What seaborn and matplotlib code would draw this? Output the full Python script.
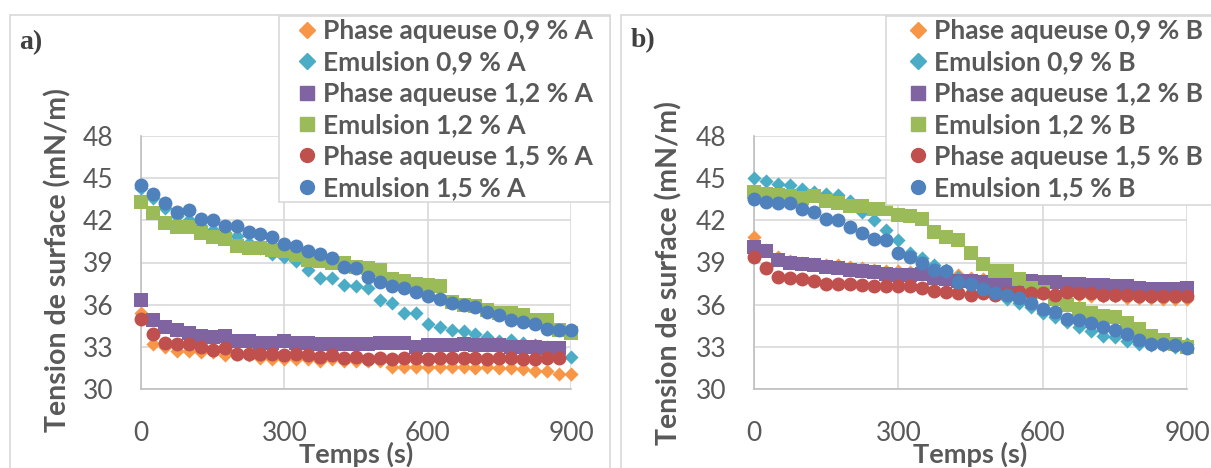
import matplotlib
matplotlib.use("Agg")
import matplotlib.pyplot as plt
import seaborn as sns
import pandas as pd
from matplotlib.patches import Rectangle
from matplotlib.lines import Line2D

sns.set_style("white")
plt.rcParams['font.family'] = ['Lato', 'DejaVu Sans']

# ---- time axis (s) ----
time = [0, 25, 50, 75, 100, 125, 150, 175, 200, 225, 250, 275, 300, 325, 350,
        375, 400, 425, 450, 475, 500, 525, 550, 575, 600, 625, 650, 675, 700,
        725, 750, 775, 800, 825, 850, 875, 900]
time_short = time[:-1]

# ---- panel a) ----
aq09_A = [35.4, 33.2, 33.0, 32.7, 32.7, 32.6, 32.6, 32.4, 32.5, 32.4, 32.2, 32.1,
          32.1, 32.1, 32.1, 32.0, 32.1, 32.0, 32.0, 32.0, 32.0, 31.6, 31.6, 31.6,
          31.6, 31.6, 31.6, 31.6, 31.5, 31.6, 31.5, 31.5, 31.4, 31.3, 31.3, 31.1, 31.1]
em09_A = [44.3, 43.6, 42.9, 42.3, 42.0, 41.6, 41.3, 41.1, 40.9, 40.4, 40.0, 39.6,
          39.4, 39.1, 38.5, 37.9, 37.9, 37.4, 37.3, 37.2, 36.3, 36.1, 35.4, 35.4,
          34.6, 34.4, 34.2, 34.1, 33.9, 33.7, 33.4, 33.5, 33.3, 33.1, 33.0, 32.9, 32.3]
aq12_A = [36.3, 34.9, 34.4, 34.2, 34.0, 33.8, 33.7, 33.8, 33.4, 33.4, 33.3, 33.3,
          33.4, 33.3, 33.3, 33.2, 33.2, 33.2, 33.2, 33.2, 33.3, 33.3, 33.3, 33.0,
          33.1, 33.1, 33.1, 33.2, 33.1, 33.1, 33.1, 33.0, 33.0, 33.0, 32.9, 32.9]
em12_A = [43.3, 42.5, 41.8, 41.5, 41.5, 41.1, 40.8, 40.7, 40.2, 40.0, 40.0, 39.9,
          39.8, 39.5, 39.2, 39.1, 39.0, 39.0, 38.7, 38.6, 38.5, 37.8, 37.7, 37.5,
          37.4, 37.3, 36.2, 36.0, 35.9, 35.6, 35.4, 35.4, 35.3, 34.9, 34.9, 34.2, 34.0]
aq15_A = [35.0, 33.9, 33.3, 33.2, 33.2, 33.0, 32.8, 32.9, 32.5, 32.5, 32.5, 32.5,
          32.4, 32.5, 32.4, 32.3, 32.4, 32.2, 32.3, 32.1, 32.2, 32.1, 32.2, 32.2,
          32.1, 32.2, 32.2, 32.2, 32.2, 32.1, 32.2, 32.2, 32.1, 32.1, 32.2, 32.2]
em15_A = [44.5, 43.9, 43.2, 42.6, 42.7, 42.1, 42.0, 41.6, 41.6, 41.2, 41.0, 40.8,
          40.3, 40.2, 39.8, 39.6, 39.3, 38.7, 38.6, 38.0, 37.6, 37.3, 37.2, 36.9,
          36.6, 36.4, 36.1, 36.0, 35.8, 35.5, 35.3, 34.9, 34.8, 34.6, 34.3, 34.2, 34.2]

# ---- panel b) ----
aq09_B = [40.8, 39.9, 39.4, 39.1, 39.0, 38.9, 38.8, 38.8, 38.7, 38.6, 38.5, 38.4,
          38.4, 38.3, 38.3, 38.2, 38.2, 38.1, 37.9, 37.8, 37.6, 37.4, 37.2, 37.0,
          36.9, 36.8, 36.7, 36.7, 36.6, 36.6, 36.6, 36.5, 36.5, 36.5, 36.4, 36.4, 36.4]
em09_B = [45.0, 44.8, 44.6, 44.5, 44.2, 44.0, 43.9, 43.8, 43.4, 42.6, 42.0, 41.3,
          40.6, 39.7, 39.3, 38.8, 38.5, 38.0, 37.6, 37.2, 36.8, 36.4, 36.1, 35.8,
          35.4, 35.1, 34.8, 34.4, 34.1, 33.8, 33.7, 33.4, 33.2, 33.1, 33.1, 33.0, 33.2]
aq12_B = [40.1, 39.8, 39.2, 39.0, 38.9, 38.8, 38.7, 38.6, 38.5, 38.4, 38.3, 38.2,
          38.1, 38.1, 38.2, 37.9, 37.8, 37.7, 37.7, 37.6, 37.5, 37.5, 37.6, 37.7,
          37.6, 37.6, 37.5, 37.5, 37.4, 37.4, 37.3, 37.3, 37.2, 37.1, 37.1, 37.1, 37.2]
em12_B = [44.0, 43.9, 43.8, 43.7, 43.6, 43.7, 43.4, 43.2, 43.0, 43.0, 42.8, 42.8,
          42.4, 42.3, 42.1, 41.2, 40.8, 40.6, 39.7, 38.9, 38.4, 38.4, 37.8, 37.2,
          36.9, 36.4, 36.0, 35.7, 35.4, 35.2, 35.1, 34.7, 34.3, 33.8, 33.5, 33.2, 33.0]
aq15_B = [39.4, 38.6, 38.0, 37.9, 37.8, 37.7, 37.5, 37.5, 37.5, 37.4, 37.3, 37.3,
          37.3, 37.3, 37.2, 37.0, 36.9, 36.8, 36.7, 36.8, 36.7, 36.8, 36.9, 36.8,
          36.8, 36.7, 36.9, 36.8, 36.8, 36.7, 36.7, 36.7, 36.6, 36.6, 36.6, 36.6, 36.6]
em15_B = [43.5, 43.3, 43.2, 43.2, 42.8, 42.6, 42.1, 42.0, 41.5, 41.1, 40.7, 40.6,
          39.7, 39.4, 39.0, 38.5, 38.4, 37.6, 37.5, 37.1, 36.8, 36.7, 36.5, 36.1,
          35.7, 35.5, 35.0, 34.9, 34.7, 34.4, 34.2, 33.9, 33.5, 33.2, 33.2, 33.1, 32.9]

names = ["Phase aqueuse 0,9 %", "Emulsion 0,9 %", "Phase aqueuse 1,2 %",
         "Emulsion 1,2 %", "Phase aqueuse 1,5 %", "Emulsion 1,5 %"]
colors = ["#F79646", "#4BACC6", "#8064A2", "#9BBB59", "#C0504D", "#4F81BD"]
markers = ["D", "D", "s", "s", "o", "o"]
sizes = [52, 52, 88, 88, 100, 100]
x_ticks = [0, 300, 600, 900]
y_ticks = [30, 33, 36, 39, 42, 45, 48]

panels = {
    "A": ([time, time, time_short, time, time_short, time],
          [aq09_A, em09_A, aq12_A, em12_A, aq15_A, em15_A]),
    "B": ([time] * 6, [aq09_B, em09_B, aq12_B, em12_B, aq15_B, em15_B]),
}

W, H = 1211, 468
fig = plt.figure(figsize=(W / 100, H / 100), dpi=100)

def fx(px):
    return px / W

def fy(py):
    return 1 - py / H

def frame(x0, y0, x1, y1, fill=False):
    fig.patches.append(Rectangle((fx(x0), fy(y1)), fx(x1) - fx(x0), fy(y0) - fy(y1),
                                 transform=fig.transFigure, fill=fill, fc="white",
                                 ec="#d9d9d9", lw=1.2, zorder=2))

# chart borders
frame(10, 15, 610, 470)
frame(621, 15, 1215, 470)

grey = "#595959"
# left, right, tag, tag position, legend box (x0, y0, x1, y1), legend anchor x, ylabel coords
layout = {"A": (141, 571, "a)", (31, 43), (279, 16, 610, 202), 294, -0.193, 0.51),
          "B": (754, 1187, "b)", (643, 41), (886, 16, 1215, 205), 905, -0.196, 0.46)}

for key, (left, right, tag, tagpos, lbox, legx, ylx, yly) in layout.items():
    ax = fig.add_axes([fx(left), fy(389), fx(right) - fx(left), fy(136) - fy(389)])
    xs_list, ys_list = panels[key]
    for xs, ys, c, m, s in zip(xs_list, ys_list, colors, markers, sizes):
        df = pd.DataFrame({"t": xs, "v": ys})
        sns.scatterplot(data=df, x="t", y="v", ax=ax, color=c, marker=m, s=s,
                        linewidth=0, legend=False, clip_on=False, zorder=3)
    ax.set_xlim(0, 900)
    ax.set_ylim(30, 48)
    ax.set_xticks(x_ticks)
    ax.set_yticks(y_ticks)
    ax.grid(True, color="#d9d9d9", lw=1.2)
    ax.set_axisbelow(True)
    for sp in ["top", "right"]:
        ax.spines[sp].set_visible(False)
    for sp in ["left", "bottom"]:
        ax.spines[sp].set_color("#bfbfbf")
        ax.spines[sp].set_linewidth(1.2)
    ax.tick_params(axis="both", length=0, labelsize=19, labelcolor=grey)
    ax.tick_params(axis="y", pad=20)
    ax.tick_params(axis="x", pad=23)
    ax.set_xlabel("Temps (s)", fontsize=19.5, fontweight="bold", color=grey)
    ax.set_ylabel("Tension de surface (mN/m)", fontsize=20.5, fontweight="bold", color=grey)
    ax.xaxis.set_label_coords(0.5, (389 - 454) / 253)
    ax.xaxis.label.set_verticalalignment("center")
    ax.yaxis.set_label_coords(ylx, yly)
    ax.yaxis.label.set_verticalalignment("center")

    fig.text(fx(tagpos[0]), fy(tagpos[1]), tag, fontsize=20, fontweight="bold",
             family=["Liberation Serif", "DejaVu Serif"], color="#404040",
             ha="center", va="center")

    # legend box (white, light grey border) and entries
    frame(*lbox, fill=True)
    handles = [Line2D([], [], ls="none", marker=m, color=c, markersize=ms)
               for m, c, ms in zip(markers, colors, [8, 8, 9.5, 9.5, 10, 10])]
    labels = [f"{n} {key}" for n in names]
    fig.legend(handles, labels, loc="upper left",
               bbox_to_anchor=(fx(legx), fy(19)), bbox_transform=fig.transFigure,
               frameon=False,
               prop={"family": ["Lato", "DejaVu Sans"], "weight": "bold", "size": 19},
               labelcolor=grey, handlelength=1.0, handletextpad=0.1,
               labelspacing=0.28, borderpad=0, borderaxespad=0)

fig.savefig("out.png", dpi=100)
